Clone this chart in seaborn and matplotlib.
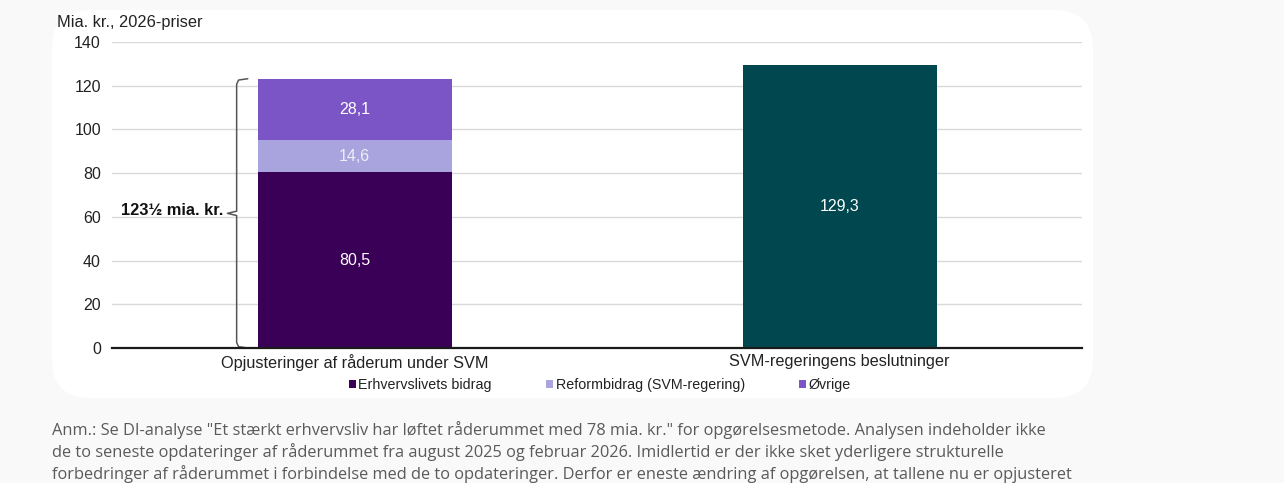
import matplotlib
matplotlib.use("Agg")
import matplotlib.pyplot as plt
import seaborn as sns
import numpy as np
from matplotlib.patches import FancyBboxPatch, Patch

# ---- data ----
categories = ["Opjusteringer af råderum under SVM", "SVM-regeringens beslutninger"]
erhverv = [80.5, 0.0]
reform = [14.6, 0.0]
ovrige = [28.1, 0.0]
beslutninger = [0.0, 129.3]
series_names = ["Erhvervslivets bidrag", "Reformbidrag (SVM-regering)", "Øvrige"]
yticks = [0, 20, 40, 60, 80, 100, 120, 140]
brace_label = "123½ mia. kr."
ylabel = "Mia. kr., 2026-priser"
footnote = [
    'Anm.: Se DI-analyse "Et stærkt erhvervsliv har løftet råderummet med 78 mia. kr." for opgørelsesmetode. Analysen indeholder ikke',
    "de to seneste opdateringer af råderummet fra august 2025 og februar 2026. Imidlertid er der ikke sket yderligere strukturelle",
    "forbedringer af råderummet i forbindelse med de to opdateringer. Derfor er eneste ændring af opgørelsen, at tallene nu er opjusteret",
]

c_erhverv = "#3a0058"
c_reform = "#a9a4dd"
c_ovrige = "#7b55c5"
c_teal = "#00474f"

sns.set_theme(style="white")
plt.rcParams["font.family"] = ["Liberation Sans", "DejaVu Sans"]

W, H = 1284, 483
fig = plt.figure(figsize=(W / 100, H / 100), dpi=100, facecolor="#f9f9f9")

# white rounded panel
panel = FancyBboxPatch((52 / W, 85 / H), (1093 - 52) / W, (473 - 85) / H,
                       boxstyle="round,pad=0,rounding_size=0.03",
                       transform=fig.transFigure, facecolor="white",
                       edgecolor="none", zorder=-5, mutation_aspect=W / H)
fig.patches.append(panel)

ax = fig.add_axes([112 / W, (483 - 348) / H, 970 / W, 306 / H])
ax.set_zorder(2)
ax.set_facecolor("none")

bottoms = np.zeros(len(categories))
stack = [(erhverv, c_erhverv), (reform, c_reform), (ovrige, c_ovrige)]
for vals, col in stack:
    sns.barplot(x=categories, y=vals, bottom=bottoms, color=col, width=0.4,
                linewidth=0, saturation=1, ax=ax, zorder=3)
    bottoms = bottoms + np.array(vals)
sns.barplot(x=categories, y=beslutninger, color=c_teal, width=0.4,
            linewidth=0, saturation=1, ax=ax, zorder=3)

# value labels
label_cols = ["white", "#eeeef6", "white"]
b = np.zeros(len(categories))
for (vals, _), lc in zip(stack, label_cols):
    for i, v in enumerate(vals):
        if v > 0:
            ax.text(i, b[i] + v / 2, f"{v:.1f}".replace(".", ","), ha="center",
                    va="center", color=lc, fontsize=11.5, zorder=5)
    b = b + np.array(vals)
for i, v in enumerate(beslutninger):
    if v > 0:
        ax.text(i, v / 2, f"{v:.1f}".replace(".", ","), ha="center",
                va="center", color="white", fontsize=11.5, zorder=5)

ax.set_xlim(-0.5, 1.5)
ax.set_ylim(0, 140)
ax.set_yticks(yticks)
ax.yaxis.grid(True, color="#d9d9d9", linewidth=1, zorder=0)
ax.set_axisbelow(True)
for s in ["left", "right", "top"]:
    ax.spines[s].set_visible(False)
ax.spines["bottom"].set_color("#1a1a1a")
ax.spines["bottom"].set_linewidth(1.6)
ax.spines["bottom"].set_zorder(6)
ax.tick_params(axis="y", length=0, pad=8, labelsize=11.5, labelcolor="#222222")
ax.tick_params(axis="x", length=0, pad=4, labelsize=11.7, labelcolor="#222222")
ax.set_xlabel("")
ax.set_ylabel("")

# curly brace
total = bottoms[0]
xb, xs, xt = -0.243, -0.22, -0.262
mid = total / 2
bx = [xs, xb + 0.004, xb, xb, xt, xb, xb, xb + 0.004, xs]
by = [total, total - 0.6, total - 2.5, mid + 1.0, mid, mid - 1.0, 2.5, 0.6, 0]
ax.plot(bx, by, color="#555555", linewidth=1.1, clip_on=False, zorder=4,
        solid_joinstyle="round")
ax.text(xt - 0.008, mid + 1.5, brace_label, ha="right", va="center",
        fontsize=11.8, fontweight="bold", color="#111111", zorder=5)

fig.text(57 / W, 1 - 22 / H, ylabel, ha="left", va="center", fontsize=11.8,
         color="#222222")

handles = [Patch(facecolor=c, edgecolor="none") for c in [c_erhverv, c_reform, c_ovrige]]
fig.legend(handles, series_names, loc="center", bbox_to_anchor=(600 / W, 1 - 385 / H),
           ncol=3, frameon=False, fontsize=10.3, handlelength=0.45, handleheight=0.45,
           handletextpad=0.2, columnspacing=3.8, labelcolor="#222222")

for k, line in enumerate(footnote):
    fig.text(52 / W, 1 - (430 + 22 * k) / H, line, ha="left", va="center",
             fontsize=11.8, color="#5a5a5a", family=["Open Sans", "DejaVu Sans"])

fig.savefig("out.png", dpi=100, facecolor=fig.get_facecolor())
